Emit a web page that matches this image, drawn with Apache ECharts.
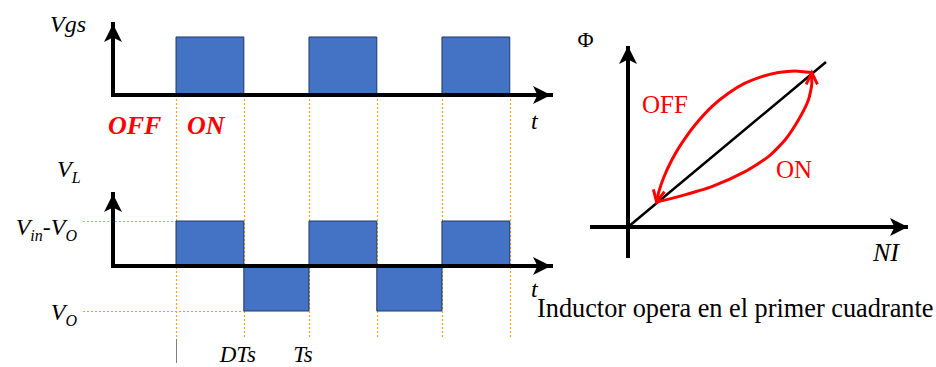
<!DOCTYPE html>
<html>
<head>
<meta charset="utf-8">
<script src="https://cdn.jsdelivr.net/npm/echarts@6/dist/echarts.min.js"></script>
<style>
  html, body { margin: 0; padding: 0; background: #fff; }
  #chart { width: 936px; height: 367px; }
</style>
</head>
<body>
<div id="chart"></div>
<script>
// Time is measured in switching periods Ts, with t = 0 at the first turn-on.
const gateOnStart = [0, 1, 2];
const gateOnEnd = [0.51, 1.51, 2.51];
const gateLevel = [1, 1, 1];

// Inductor voltage: +(Vin - Vo) while ON, -Vo while OFF
const vlStart = [0, 0.51, 1, 1.51, 2];
const vlEnd = [0.51, 1, 1.51, 2, 2.51];
const vlLevel = [1, -1, 1, -1, 1];

const switchEdges = [0, 0.51, 1, 1.51, 2, 2.51];
const timeTicks = [0.51, 1];
const timeTickLabels = ['DTs', 'Ts'];
const vlTicks = [1, -1];
const vlTickLabels = ['{v|V}{s|in}{v|-V}{s|O}', '{v|V}{s|O}'];

// Flux against ampere-turns (first quadrant)
const magLine = [[0, 0], [0.99, 0.825]];
const offPath = [
  [0.919, 0.772], [0.835, 0.78], [0.752, 0.772], [0.669, 0.752], [0.585, 0.719],
  [0.502, 0.669], [0.419, 0.602], [0.335, 0.51], [0.269, 0.419], [0.219, 0.335],
  [0.177, 0.244], [0.152, 0.169], [0.143, 0.125]
];
const onPath = [
  [0.143, 0.125], [0.252, 0.152], [0.419, 0.202], [0.585, 0.277], [0.702, 0.352],
  [0.785, 0.435], [0.852, 0.535], [0.902, 0.635], [0.919, 0.719], [0.919, 0.772]
];
const fluxPaths = [offPath, onPath];

const SERIF = '"Liberation Serif", "Times New Roman", Times, serif';
const BLUE = '#4472C4';
const BLUE_EDGE = '#203864';
const GUIDE = '#E8A92A';
const RED = '#FF0000';

function subRich(size, subSize, drop) {
  return {
    v: { fontFamily: SERIF, fontStyle: 'italic', fontSize: size, fill: '#000', verticalAlign: 'top' },
    s: { fontFamily: SERIF, fontStyle: 'italic', fontSize: subSize, fill: '#000', verticalAlign: 'top', padding: [drop, 0, 0, 0] }
  };
}

function arrowAxis(gridIndex, min, max, onZero, cap) {
  return {
    gridIndex, type: 'value', min, max, z: 3,
    axisLine: {
      show: true, onZero,
      symbol: ['none', 'arrow'], symbolSize: [13.5, 18],
      lineStyle: { color: '#000', width: 4, cap }
    },
    axisTick: { show: false },
    axisLabel: { show: false },
    splitLine: { show: false }
  };
}

function blockRenderer(params, api) {
  const a = api.coord([api.value(0), 0]);
  const b = api.coord([api.value(1), api.value(2)]);
  return {
    type: 'rect',
    shape: { x: a[0], y: Math.min(a[1], b[1]), width: b[0] - a[0], height: Math.abs(b[1] - a[1]) },
    style: { fill: BLUE, stroke: BLUE_EDGE, lineWidth: 1 }
  };
}

function buildOption(guideTopY) {
  const series = [
    {
      type: 'custom', name: 'Vgs', xAxisIndex: 0, yAxisIndex: 0, z: 2,
      data: gateOnStart.map((s, i) => [s, gateOnEnd[i], gateLevel[i]]),
      renderItem: blockRenderer
    },
    {
      type: 'custom', name: 'VL', xAxisIndex: 1, yAxisIndex: 1, z: 2,
      data: vlStart.map((s, i) => [s, vlEnd[i], vlLevel[i]]),
      renderItem: blockRenderer
    },
    {
      // dotted level lines with their labels
      type: 'custom', name: 'levels', xAxisIndex: 1, yAxisIndex: 1, z: 1,
      data: vlTicks.map((v, i) => [v, i]),
      renderItem(params, api) {
        const level = api.value(0);
        const i = api.value(1);
        const y = Math.round(api.coord([0, level])[1]) + 0.5;
        const x0 = params.coordSys.x - 30;
        const x1 = api.coord([vlStart[vlLevel.indexOf(level)], level])[0];
        const nudge = i === 0 ? 5 : 0;
        return {
          type: 'group',
          children: [
            { type: 'line', shape: { x1: x0, y1: y, x2: x1, y2: y },
              style: { stroke: GUIDE, lineWidth: 1.2, lineDash: [2, 2] } },
            { type: 'text', x: params.coordSys.x - 36, y: y - 12 + nudge,
              style: { text: vlTickLabels[i], rich: subRich(24, 16, 12.5),
                       align: 'right', verticalAlign: 'top', textAlign: 'right', textVerticalAlign: 'top' } }
          ]
        };
      }
    },
    {
      type: 'custom', name: 'timeTicks', xAxisIndex: 1, yAxisIndex: 1, z: 2,
      data: timeTicks.map((t, i) => [t, i]),
      renderItem(params, api) {
        const x = api.coord([api.value(0), 0])[0] - 6;
        const y = api.coord([0, -1])[1] + 43;
        return {
          type: 'text', x, y,
          style: { text: timeTickLabels[api.value(1)], font: 'italic 23px ' + SERIF, fill: '#000',
                   lineHeight: 20,
                   align: 'center', verticalAlign: 'middle', textAlign: 'center', textVerticalAlign: 'middle' }
        };
      }
    },
    {
      type: 'line', name: 'magnetizing', xAxisIndex: 2, yAxisIndex: 2, z: 2,
      data: magLine, showSymbol: false, symbol: 'none',
      lineStyle: { color: '#000', width: 2.5 }
    },
    {
      type: 'line', name: 'OFF', xAxisIndex: 2, yAxisIndex: 2, z: 4,
      data: offPath, smooth: 0.2, showSymbol: false, symbol: 'none',
      lineStyle: { color: RED, width: 3 }
    },
    {
      type: 'line', name: 'ON', xAxisIndex: 2, yAxisIndex: 2, z: 4,
      data: onPath, smooth: 0.2, showSymbol: false, symbol: 'none',
      lineStyle: { color: RED, width: 3 }
    },
    {
      // arrowheads at the end of each trajectory
      type: 'custom', name: 'arrows', xAxisIndex: 2, yAxisIndex: 2, z: 5,
      data: fluxPaths.map((p, i) => [i]),
      renderItem(params, api) {
        const path = fluxPaths[api.value(0)];
        const tip = api.coord(path[path.length - 1]);
        const prev = api.coord(path[path.length - 2]);
        const ang = Math.atan2(tip[1] - prev[1], tip[0] - prev[0]);
        const len = 13, spread = 0.45;
        const p1 = [tip[0] - len * Math.cos(ang - spread), tip[1] - len * Math.sin(ang - spread)];
        const p2 = [tip[0] - len * Math.cos(ang + spread), tip[1] - len * Math.sin(ang + spread)];
        return {
          type: 'polyline', shape: { points: [p1, tip, p2] },
          style: { stroke: RED, lineWidth: 3, fill: null, lineJoin: 'miter' }
        };
      }
    }
  ];

  if (guideTopY != null) {
    series.push({
      // switching instants carried down from the gate signal
      type: 'custom', name: 'edges', xAxisIndex: 1, yAxisIndex: 1, z: 1,
      data: switchEdges.map(t => [t]),
      renderItem(params, api) {
        const x = Math.round(api.coord([api.value(0), 0])[0]) + 0.5;
        const yBot = api.coord([0, -1])[1] + 28;
        const children = [
          { type: 'line', shape: { x1: x, y1: guideTopY, x2: x, y2: yBot },
            style: { stroke: GUIDE, lineWidth: 1.2, lineDash: [2, 2] } }
        ];
        if (params.dataIndex === 0) {
          children.push({ type: 'line', shape: { x1: x, y1: yBot, x2: x, y2: yBot + 24 },
                          style: { stroke: '#808080', lineWidth: 1 } });
        }
        return { type: 'group', children };
      }
    });
  }

  const italic = (size) => 'italic ' + size + 'px ' + SERIF;
  const textEl = (text, x, y, font, fill, align) => ({
    type: 'text', x, y, z: 10,
    style: { text, font, fill: fill || '#000', align: align || 'left', verticalAlign: 'middle',
             textAlign: align || 'left', textVerticalAlign: 'middle' }
  });

  return {
    animation: false,
    backgroundColor: '#fff',
    grid: [
      { left: 113, right: 385, top: 24, bottom: 272 },
      { left: 113, right: 385, top: 194, bottom: 101 },
      { left: 590, right: 28, top: 46, bottom: 109 }
    ],
    xAxis: [
      arrowAxis(0, -0.474, 2.82, true, 'square'),
      arrowAxis(1, -0.474, 2.82, true, 'square'),
      arrowAxis(2, -0.19, 1.4, true, 'butt')
    ],
    yAxis: [
      arrowAxis(0, 0, 1.224, false, 'square'),
      arrowAxis(1, 0, 1.6, false, 'square'),
      arrowAxis(2, -0.155, 0.905, true, 'butt')
    ],
    series,
    graphic: [
      textEl('Vgs', 50, 24, italic(24)),
      textEl('OFF', 108, 125, 'italic bold 26px ' + SERIF, RED),
      textEl('ON', 187, 125, 'italic bold 26px ' + SERIF, RED),
      textEl('t', 531, 121, italic(24)),
      {
        type: 'text', x: 57, y: 157, z: 10,
        style: { text: '{v|V}{s|L}', rich: subRich(24, 16, 12.5), align: 'left', verticalAlign: 'top',
                 textAlign: 'left', textVerticalAlign: 'top' }
      },
      textEl('t', 531, 289, italic(24)),
      textEl('\u03A6', 585.5, 39, '22px ' + SERIF, '#000', 'center'),
      textEl('NI', 873, 252, italic(26)),
      textEl('OFF', 642, 104, '25px ' + SERIF, RED),
      textEl('ON', 776, 169, '25px ' + SERIF, RED),
      textEl('Inductor opera en el primer cuadrante', 537, 308, '26.3px ' + SERIF)
    ]
  };
}

const chart = echarts.init(document.getElementById('chart'), null, { renderer: 'svg' });
chart.setOption(buildOption(null));
const guideTopY = chart.convertToPixel({ xAxisIndex: 0, yAxisIndex: 0 }, [0, 0])[1];
chart.setOption(buildOption(guideTopY), true);
</script>
</body>
</html>
